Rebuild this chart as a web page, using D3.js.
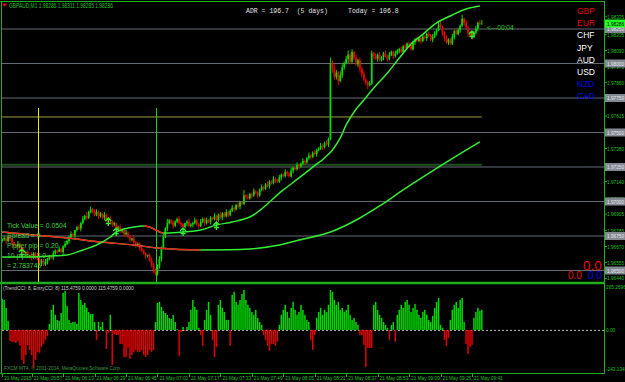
<!DOCTYPE html>
<html>
<head>
<meta charset="utf-8">
<script src="https://cdn.jsdelivr.net/npm/d3@7"></script>
<style>
  body { margin: 0; background: #000; overflow: hidden; }
</style>
</head>
<body>
<div id="chart"></div>
<script>

// ---- data (GBPAUD M1, 21 May 2015) ----

const symbolTitle = "GBPAUD,M1 1.98286 1.98311 1.98285 1.98286";
const adrText = "ADR = 196.7  (5 days)";
const todayText = "Today = 106.8";
const firstOpen = 1.9671;

const closes = [
  1.9672,1.9673,1.9671,1.9674,1.9672,1.9670,1.9668,1.9667,1.9669,1.9666,
  1.9664,1.9662,1.9663,1.9660,1.9661,1.9659,1.9662,1.9660,1.9658,1.9655,
  1.9657,1.9654,1.9656,1.9658,1.9660,1.9659,1.9662,1.9664,1.9663,1.9665,
  1.9663,1.9667,1.9669,1.9671,1.9674,1.9676,1.9675,1.9679,1.9681,1.9680,
  1.9684,1.9687,1.9689,1.9688,1.9692,1.9694,1.9693,1.9690,1.9692,1.9689,
  1.9691,1.9688,1.9690,1.9686,1.9687,1.9685,1.9683,1.9684,1.9680,1.9681,
  1.9678,1.9679,1.9676,1.9677,1.9674,1.9672,1.9673,1.9670,1.9668,1.9669,
  1.9666,1.9664,1.9662,1.9660,1.9661,1.9657,1.9654,1.9650,1.9647,1.9652,
  1.9658,1.9666,1.9674,1.9680,1.9684,1.9686,1.9684,1.9682,1.9685,1.9687,
  1.9684,1.9683,1.9681,1.9684,1.9685,1.9682,1.9683,1.9684,1.9686,1.9683,
  1.9682,1.9685,1.9687,1.9684,1.9686,1.9685,1.9688,1.9687,1.9689,1.9686,
  1.9690,1.9688,1.9691,1.9689,1.9692,1.9690,1.9693,1.9695,1.9694,1.9697,
  1.9696,1.9699,1.9698,1.9704,1.9703,1.9702,1.9705,1.9704,1.9707,1.9706,
  1.9704,1.9708,1.9710,1.9709,1.9712,1.9711,1.9714,1.9713,1.9716,1.9715,
  1.9714,1.9717,1.9719,1.9718,1.9721,1.9720,1.9718,1.9722,1.9724,1.9723,
  1.9726,1.9725,1.9727,1.9729,1.9728,1.9731,1.9733,1.9732,1.9735,1.9734,
  1.9737,1.9738,1.9740,1.9739,1.9742,1.9741,1.9745,1.9800,1.9796,1.9790,
  1.9793,1.9787,1.9791,1.9797,1.9800,1.9803,1.9806,1.9801,1.9808,1.9804,
  1.9799,1.9802,1.9796,1.9792,1.9788,1.9786,1.9784,1.9785,1.9807,1.9805,
  1.9803,1.9806,1.9802,1.9804,1.9807,1.9805,1.9803,1.9806,1.9808,1.9805,
  1.9807,1.9809,1.9810,1.9808,1.9812,1.9811,1.9814,1.9813,1.9810,1.9815,
  1.9817,1.9816,1.9818,1.9816,1.9819,1.9818,1.9821,1.9820,1.9817,1.9819,
  1.9822,1.9824,1.9828,1.9826,1.9822,1.9818,1.9815,1.9817,1.9814,1.9819,
  1.9823,1.9821,1.9824,1.9827,1.9832,1.9829,1.9826,1.9822,1.9820,1.9819,
  1.9822,1.9825,1.9829,1.98286,1.98286
];

// wick lengths in pips above the body / below the body
const wickUp = [
  1,2,1,1,2,1,0,1,2,1, 1,2,1,1,0,2,1,1,2,1, 1,1,2,1,1,0,2,1,1,2,
  1,1,2,1,1,2,1,0,1,2, 1,2,1,3,1,2,1,1,2,1, 1,0,2,1,1,2,1,1,0,1,
  2,1,1,2,1,1,0,2,1,1, 1,2,1,1,0,1,2,1,1,2, 2,1,2,1,3,1,1,2,1,1,
  2,1,1,0,1,2,1,1,2,1, 1,2,1,1,2,1,1,0,2,1, 1,2,1,1,2,1,1,2,1,1,
  2,1,1,4,1,2,1,1,2,1, 1,1,2,1,1,2,1,1,2,1, 1,2,1,1,2,1,1,2,1,1,
  2,1,1,2,1,1,2,1,1,2, 1,1,2,1,1,2,1,4,2,3, 2,1,3,2,1,2,3,1,2,1,
  2,1,2,1,2,1,1,2,2,1, 2,1,2,1,1,2,1,2,1,1, 2,1,1,2,1,2,1,1,2,1,
  1,2,1,1,2,1,1,2,1,2, 1,1,2,2,1,1,2,1,1,2, 1,2,1,1,3,1,2,1,1,2,
  1,2,1,2,2.5
];
const wickDn = [
  1,1,2,1,1,2,1,1,0,2, 1,1,2,1,1,2,1,2,1,2, 2,1,1,2,1,1,2,1,1,0,
  1,2,1,1,2,1,1,2,1,1, 2,1,1,2,1,1,2,1,1,2, 1,1,2,1,0,1,2,1,1,2,
  1,1,2,1,1,2,1,1,2,1, 2,1,1,2,1,1,2,2,1,1, 1,2,1,1,2,1,1,2,1,1,
  1,2,1,1,2,1,1,2,1,1, 2,1,1,2,1,1,2,1,1,2, 1,1,2,1,1,2,1,1,2,1,
  1,2,1,1,2,1,1,2,1,1, 2,1,1,2,1,1,2,1,1,2, 1,1,2,1,1,2,1,1,2,1,
  1,2,1,1,2,1,1,2,1,1, 2,1,1,2,1,1,2,1,3,2, 2,3,1,2,2,1,3,2,1,2,
  1,2,3,2,1,2,3,1,1,2, 1,2,1,1,2,1,2,1,1,2, 1,1,2,1,1,2,1,2,1,1,
  2,1,1,2,1,1,2,1,1,2, 1,2,1,1,2,2,1,2,1,1, 2,1,1,2,1,2,1,3,1,2,
  1,1,2,1,0.1
];

// TrendCCI histogram, one value per bar
const cciValues = [
  179,173,127,52,-64,-69,-69,-75,-64,-92,
  -173,-196,-145,-87,-116,-145,-220,-173,-127,-133,
  -98,-81,-58,-35,35,116,145,87,58,52,
  98,214,225,139,58,40,46,46,35,214,
  173,145,156,127,104,92,92,46,-58,46,
  17,46,0,-110,-17,87,-202,-23,-29,-29,
  -81,-81,-156,-156,-104,-168,-145,-127,-116,-127,
  -127,-116,-145,-156,-145,-116,-127,-116,46,156,
  162,133,110,98,87,69,64,87,46,5,
  -150,-12,17,-6,17,46,116,173,133,116,
  12,-29,-92,58,116,162,87,-58,-156,-98,
  145,173,127,104,58,58,-92,202,220,162,
  145,173,208,231,173,145,127,104,87,116,
  69,46,29,-29,-58,-92,-121,-81,-81,-92,
  -69,29,87,116,145,104,69,127,162,116,
  87,104,145,116,87,58,46,-58,-116,-29,
  69,104,127,87,116,104,145,231,220,173,
  145,162,116,127,104,116,145,87,58,69,
  46,29,-29,-29,-87,-214,-104,-104,-104,145,
  162,116,87,69,46,29,12,-58,29,46,
  -69,87,116,145,127,162,173,145,104,127,
  150,116,87,69,104,116,87,58,46,81,
  127,162,185,29,12,-58,-92,-46,58,116,
  145,162,127,173,185,46,-81,-139,-98,-87,
  69,104,127,110,115.4759
];

// moving averages, read at sample bars
const midMaBars   = [0,14,24,33,41,48,55,58,67,72,75,82,89,101,109,117,126,143,151,158,164,168,172,175,179,184,189,196,202,209,213,221,229,236,243];
const midMaPrices = [1.96594,1.96595,1.96601,1.96609,1.96645,1.96681,1.96739,1.96775,1.96812,1.96819,1.96812,1.96768,1.96772,1.96790,1.96826,1.96848,1.96884,1.97080,1.97167,1.97246,1.97312,1.97370,1.97457,1.97551,1.97645,1.97732,1.97819,1.97928,1.98036,1.98152,1.98196,1.98290,1.98348,1.98391,1.98413];
const slowMaBars   = [0,16,33,50,67,79,101,116,126,141,151,167,182,192,204,223,243];
const slowMaPrices = [1.96775,1.96754,1.96732,1.96703,1.96681,1.96659,1.96645,1.96646,1.96652,1.96681,1.96717,1.96775,1.96877,1.96964,1.97080,1.97254,1.97428];

// chart objects
const gridLevels = [1.9825, 1.9800, 1.9775, 1.9750, 1.9725, 1.9700, 1.9675, 1.9650];
const yellowLevel = 1.97609;
const greenLevel = 1.97262;
const hourLines = ["06:00", "07:00"];
const hourLineTop = 1.97674;
const arrowBars = [10, 54, 58, 92, 109, 239];
const arrowPrices = [1.96623, 1.96848, 1.96775, 1.96775, 1.96819, 1.98203];

const priceTicks = [1.98335,1.98205,1.98090,1.97975,1.97860,1.97615,1.97380,1.97140,1.97015,1.96905,1.96785,1.96670,1.96555,1.96440];
const timeTicks = ["05:42","05:57","06:13","06:29","06:45","07:01","07:17","07:33","07:49","08:05","08:21","08:37","08:53","09:09","09:25","09:41"];
const cciTicks = [265.2696, 0, -243.1345];
const cciTickText = ["265.2696", "0.00", "-243.1345"];

const currencies = ["GBP", "EUR", "CHF", "JPY", "AUD", "USD", "NZD", "CAD"];
const infoLines = ["Tick Value = 0.0504", "Spread = 9", "Pipper pip = 0.20", "10 pips = 2.0", "= 2.783745"];
const cciTitle = "(TrendCCI: 8, EntryCCI: 8) 115.4759 0.0000 115.4759 0.0000";
const copyright = "FXCM MT4, \u00a9 2001-2014, MetaQuotes Software Corp.";
const countdown = "<---00:04";

// ---- drawing ----

const width = 625, height = 382;
const green = "#1fae1f", bull = "#00e000", bear = "#f00000";
const maGreen = "#33ee33", maRed = "#ee2020";
const tiny = "Liberation Sans, Arial, sans-serif";

const svg = d3.select("#chart").append("svg")
    .attr("width", width)
    .attr("height", height);

svg.append("rect").attr("width", width).attr("height", height).attr("fill", "#000");

const parseTime = d3.timeParse("%Y-%m-%d %H:%M");
const day = "2015-05-21 ";
const barTime = i => new Date(parseTime(day + "05:42").getTime() + i * 60000);

const x = d3.scaleTime()
    .domain([barTime(0), barTime(closes.length - 1)])
    .range([2.2, 481.8]);
const xi = i => x(barTime(i));

const y = d3.scaleLinear().domain([1.965, 1.98]).range([270, 63]);
const yc = d3.scaleLinear().domain([-243.1345, 265.2696]).range([372, 284]);

// squeeze MT4's narrow little font
function squeeze(sel, k) {
    sel.each(function() {
        const w = this.getComputedTextLength();
        d3.select(this).attr("textLength", w * k).attr("lengthAdjust", "spacingAndGlyphs");
    });
}

svg.append("clipPath").attr("id", "main")
  .append("rect").attr("x", 2).attr("y", 2).attr("width", 602).attr("height", 280);

const main = svg.append("g").attr("clip-path", "url(#main)");

// grid levels
main.selectAll(".grid")
    .data(gridLevels)
    .enter().append("line")
    .attr("x1", 0).attr("x2", 604)
    .attr("y1", d => y(d) + 0.5).attr("y2", d => y(d) + 0.5)
    .attr("stroke", "#646b76");

main.append("line")
    .attr("x1", 0).attr("x2", xi(closes.length - 1))
    .attr("y1", y(yellowLevel)).attr("y2", y(yellowLevel))
    .attr("stroke", "#9c9c48");

main.append("line")
    .attr("x1", 0).attr("x2", xi(closes.length - 1))
    .attr("y1", y(greenLevel)).attr("y2", y(greenLevel))
    .attr("stroke", "#1d501d").attr("stroke-width", 2);

// hour separators
main.selectAll(".hour")
    .data(hourLines)
    .enter().append("line")
    .attr("x1", d => Math.round(x(parseTime(day + d))) + 0.5)
    .attr("x2", d => Math.round(x(parseTime(day + d))) + 0.5)
    .attr("y1", y(hourLineTop)).attr("y2", 283)
    .attr("stroke", (d, i) => i === 0 ? "#e8e800" : "#22cc22");

// candles
const opens = closes.map((c, i) => i === 0 ? firstOpen : closes[i - 1]);
const candles = closes.map((c, i) => ({
    i: i,
    o: opens[i],
    c: c,
    h: Math.max(opens[i], c) + wickUp[i] / 10000,
    l: Math.min(opens[i], c) - wickDn[i] / 10000
}));

const cg = main.append("g");
cg.selectAll(".wick")
    .data(candles)
    .enter().append("line")
    .attr("x1", d => xi(d.i)).attr("x2", d => xi(d.i))
    .attr("y1", d => y(d.h)).attr("y2", d => y(d.l))
    .attr("stroke", d => d.c >= d.o ? bull : bear)
    .attr("stroke-width", 1);

cg.selectAll(".body")
    .data(candles)
    .enter().append("rect")
    .attr("x", d => xi(d.i) - 0.85)
    .attr("width", 1.7)
    .attr("y", d => y(Math.max(d.o, d.c)))
    .attr("height", d => Math.max(1, y(Math.min(d.o, d.c)) - y(Math.max(d.o, d.c))))
    .attr("fill", d => d.c >= d.o ? bull : bear);

// moving averages: green when rising, red when falling
function drawMa(bars, prices, id) {
    const pts = bars.map((b, k) => [xi(b), y(prices[k])]);
    const line = d3.line().curve(d3.curveMonotoneX);
    const clip = svg.append("clipPath").attr("id", id);
    for (let k = 0; k < prices.length - 1; k++) {
        if (prices[k + 1] < prices[k]) {
            clip.append("rect")
                .attr("x", pts[k][0]).attr("y", 0)
                .attr("width", pts[k + 1][0] - pts[k][0]).attr("height", 290);
        }
    }
    main.append("path").attr("d", line(pts))
        .attr("fill", "none").attr("stroke", maGreen).attr("stroke-width", 1.5);
    main.append("path").attr("d", line(pts))
        .attr("clip-path", `url(#${id})`)
        .attr("fill", "none").attr("stroke", maRed).attr("stroke-width", 1.5);
}
drawMa(slowMaBars, slowMaPrices, "slowRed");
drawMa(midMaBars, midMaPrices, "midRed");

// entry arrows
main.selectAll(".arrow")
    .data(arrowBars)
    .enter().append("path")
    .attr("d", (b, k) => {
        const ax = xi(b), ay = y(arrowPrices[k]);
        return `M${ax},${ay - 4}L${ax},${ay + 4}M${ax - 3},${ay - 1}L${ax},${ay - 4}L${ax + 3},${ay - 1}M${ax - 2.5},${ay + 1.5}L${ax + 2.5},${ay + 1.5}`;
    })
    .attr("fill", "none").attr("stroke", "#33ee33").attr("stroke-width", 1.3);

// indicator window
const cciG = svg.append("g");
cciG.append("line")
    .attr("x1", 2).attr("x2", 604)
    .attr("y1", yc(0) + 0.5).attr("y2", yc(0) + 0.5)
    .attr("stroke", "#b8b8b8").attr("stroke-dasharray", "2,2");

cciG.selectAll(".hist")
    .data(cciValues)
    .enter().append("rect")
    .attr("x", (d, i) => xi(i) - 0.75)
    .attr("width", 1.5)
    .attr("y", d => d >= 0 ? yc(d) : yc(0))
    .attr("height", d => Math.abs(yc(d) - yc(0)))
    .attr("fill", d => d >= 0 ? "#00d800" : "#e00000");

// frame
const frame = svg.append("g").attr("stroke", green).attr("fill", "none");
frame.append("line").attr("x1", 0).attr("x2", 604).attr("y1", 1.5).attr("y2", 1.5);
frame.append("line").attr("x1", 1.5).attr("x2", 1.5).attr("y1", 1).attr("y2", 373);
frame.append("line").attr("x1", 604.5).attr("x2", 604.5).attr("y1", 1).attr("y2", 373.5);
frame.append("line").attr("x1", 0).attr("x2", 605).attr("y1", 283).attr("y2", 283).attr("stroke-width", 2.5);
frame.append("line").attr("x1", 0).attr("x2", 605).attr("y1", 373.5).attr("y2", 373.5);

// right price scale
const axisG = svg.append("g").attr("font-family", tiny).attr("font-size", 6);
axisG.selectAll(".ptick")
    .data(priceTicks)
    .enter().append("line")
    .attr("x1", 604).attr("x2", 607)
    .attr("y1", d => y(d)).attr("y2", d => y(d))
    .attr("stroke", green);
axisG.selectAll(".plabel")
    .data(priceTicks)
    .enter().append("text")
    .attr("x", 607).attr("y", d => y(d) + 2.2)
    .attr("fill", "#1fc01f")
    .text(d => d3.format(".5f")(d))
    .call(squeeze, 0.79);

axisG.selectAll(".gbox")
    .data(gridLevels)
    .enter().append("rect")
    .attr("x", 605).attr("y", d => y(d) - 3.5)
    .attr("width", 21).attr("height", 8)
    .attr("fill", "#838992");
axisG.selectAll(".gtext")
    .data(gridLevels)
    .enter().append("text")
    .attr("x", 607).attr("y", d => y(d) + 2.7)
    .attr("fill", "#e6e8ec")
    .text(d => d3.format(".5f")(d))
    .call(squeeze, 0.79);

const lastClose = closes[closes.length - 1];
axisG.append("rect")
    .attr("x", 605).attr("y", y(lastClose) - 4)
    .attr("width", 21).attr("height", 8)
    .attr("fill", "#22ff22");
axisG.append("text")
    .attr("x", 607).attr("y", y(lastClose) + 2.2)
    .attr("fill", "#000")
    .text(d3.format(".5f")(lastClose))
    .call(squeeze, 0.79);

// indicator scale
axisG.selectAll(".ctext")
    .data(cciTicks)
    .enter().append("text")
    .attr("x", 606)
    .attr("y", (d, i) => [yc(d) + 4.5, yc(d) + 2.2, yc(d) - 1][i])
    .attr("fill", "#1fc01f")
    .text((d, i) => cciTickText[i])
    .call(squeeze, 0.79);

// time scale
const tg = svg.append("g").attr("font-family", tiny).attr("font-size", 6);
tg.selectAll(".ttick")
    .data(timeTicks)
    .enter().append("line")
    .attr("x1", d => Math.round(x(parseTime(day + d))) + 0.5)
    .attr("x2", d => Math.round(x(parseTime(day + d))) + 0.5)
    .attr("y1", 373).attr("y2", 377)
    .attr("stroke", green);
tg.selectAll(".tlabel")
    .data(timeTicks)
    .enter().append("text")
    .attr("x", d => x(parseTime(day + d)) + 2)
    .attr("y", 380)
    .attr("fill", "#1fc01f")
    .text((d, i) => i === 0 ? "21 May 2015" : d3.timeFormat("%d %b %H:%M")(parseTime(day + d)))
    .call(squeeze, 0.79);

// window texts
svg.append("path").attr("d", "M2,3.5L7,3.5L4.5,7Z").attr("fill", "#e00000");
svg.append("text")
    .attr("x", 9).attr("y", 8)
    .attr("font-family", tiny).attr("font-size", 6.5)
    .attr("fill", "#1fc01f")
    .text(symbolTitle)
    .call(squeeze, 0.75);

const mono = "Liberation Mono, DejaVu Sans Mono, monospace";
svg.append("text").attr("x", 246).attr("y", 12.5)
    .attr("font-family", mono).attr("font-size", 6.5).attr("fill", "#e4e4e4")
    .attr("xml:space", "preserve").style("white-space", "pre")
    .text(adrText);
svg.append("text").attr("x", 348).attr("y", 12.5)
    .attr("font-family", mono).attr("font-size", 6.5).attr("fill", "#e4e4e4")
    .text(todayText);

svg.append("text").attr("x", 487).attr("y", 29.5)
    .attr("font-family", tiny).attr("font-size", 6.5).attr("fill", "#22cc22")
    .text(countdown);

const currencyColors = ["#e00000", "#e00000", "#ffffff", "#ffffff", "#ffffff", "#ffffff", "#0000e8", "#0000e8"];
svg.selectAll(".cur")
    .data(currencies)
    .enter().append("text")
    .attr("x", 577)
    .attr("y", (d, i) => 14 + i * 12.2)
    .attr("font-family", tiny).attr("font-size", 8.5)
    .attr("fill", (d, i) => currencyColors[i])
    .text(d => d);

svg.append("text").attr("x", 583).attr("y", 269.5)
    .attr("font-family", tiny).attr("font-size", 13.5).attr("fill", "#f00000").text("0.0");
svg.append("text").attr("x", 568).attr("y", 278.5)
    .attr("font-family", tiny).attr("font-size", 10).attr("fill", "#f00000").text("0.0");
svg.append("text").attr("x", 588).attr("y", 278.5)
    .attr("font-family", tiny).attr("font-size", 10).attr("fill", "#0000f0").text("0.0");

svg.selectAll(".info")
    .data(infoLines)
    .enter().append("text")
    .attr("x", 7)
    .attr("y", (d, i) => 227.5 + i * 10)
    .attr("font-family", tiny).attr("font-size", 6.8)
    .attr("fill", "#3fcf3f")
    .text(d => d);

svg.append("text").attr("x", 3).attr("y", 289.5)
    .attr("font-family", tiny).attr("font-size", 6)
    .attr("fill", "#cfcfcf")
    .text(cciTitle)
    .call(squeeze, 0.8);

svg.append("text").attr("x", 4).attr("y", 369.5)
    .attr("font-family", tiny).attr("font-size", 6)
    .attr("fill", "#3e9a3e")
    .text(copyright)
    .call(squeeze, 0.8);

</script>
</body>
</html>
